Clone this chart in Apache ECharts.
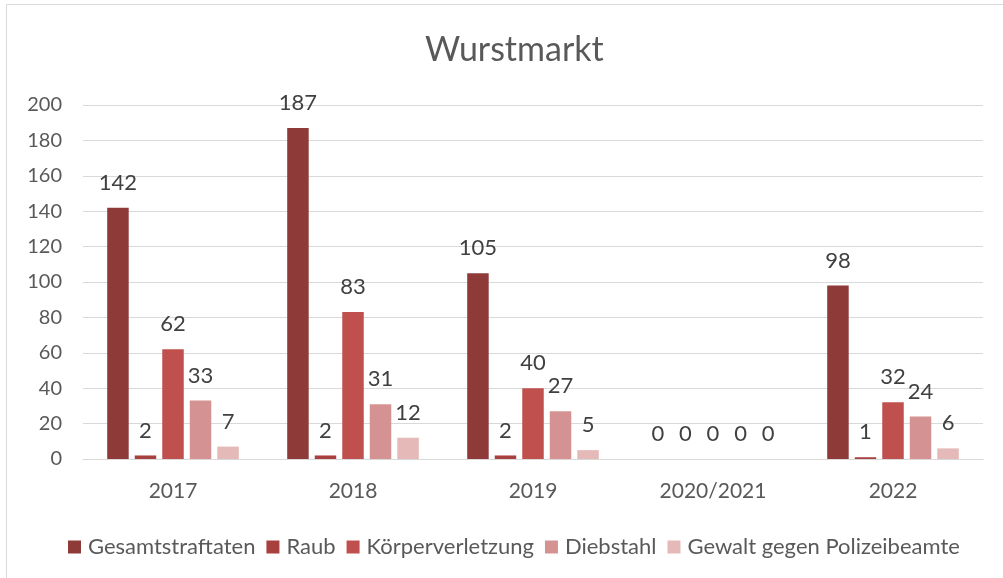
<!DOCTYPE html>
<html>
<head>
<meta charset="utf-8">
<script src="https://cdn.jsdelivr.net/npm/echarts@6/dist/echarts.min.js"></script>
<style>
  html, body { margin: 0; padding: 0; background: #fff; }
  #chart { width: 1003px; height: 578px; }
</style>
</head>
<body>
<div id="chart"></div>
<script>
// Kategorien (Jahre) und Werte je Deliktart
const years = ['2017', '2018', '2019', '2020/2021', '2022'];
const seriesNames = ['Gesamtstraftaten', 'Raub', 'Körperverletzung', 'Diebstahl', 'Gewalt gegen Polizeibeamte'];
const gesamtstraftaten = [142, 187, 105, 0, 98];
const raub = [2, 2, 2, 0, 1];
const koerperverletzung = [62, 83, 40, 0, 32];
const diebstahl = [33, 31, 27, 0, 24];
const gewaltPolizei = [7, 12, 5, 0, 6];
const yTicks = [0, 20, 40, 60, 80, 100, 120, 140, 160, 180, 200];

const values = [gesamtstraftaten, raub, koerperverletzung, diebstahl, gewaltPolizei];
const colors = ['#8E3A39', '#A8403E', '#C0504D', '#D49392', '#E5B9B8'];
const font = 'Lato, "Open Sans", sans-serif';

const chart = echarts.init(document.getElementById('chart'));
chart.setOption({
  animation: false,
  textStyle: { fontFamily: font },
  graphic: [{
    type: 'rect',
    shape: { x: 6.5, y: 4.5, width: 1000, height: 580 },
    style: { fill: 'none', stroke: '#d9d9d9', lineWidth: 1 },
    silent: true
  }],
  title: {
    text: 'Wurstmarkt',
    left: 420,
    top: 28,
    textStyle: { fontFamily: font, fontSize: 34, fontWeight: 'normal', color: '#595959' }
  },
  legend: {
    top: 531,
    left: 63,
    itemWidth: 13,
    itemHeight: 13,
    itemGap: 11,
    icon: 'rect',
    textStyle: { fontFamily: font, fontSize: 22, color: '#595959', padding: [0, 0, 0, 2] },
    data: seriesNames
  },
  grid: { left: 83, right: 20, top: 105, bottom: 119, containLabel: false },
  xAxis: {
    type: 'category',
    data: years,
    axisLine: { lineStyle: { color: '#d9d9d9', width: 1 } },
    axisTick: { show: false },
    axisLabel: { fontFamily: font, fontSize: 21, color: '#595959', margin: 22 }
  },
  yAxis: {
    type: 'value',
    min: yTicks[0],
    max: yTicks[yTicks.length - 1],
    interval: 20,
    axisLine: { show: false },
    axisTick: { show: false },
    splitLine: { lineStyle: { color: '#d9d9d9', width: 1 } },
    axisLabel: { fontFamily: font, fontSize: 20, color: '#595959', margin: 21 }
  },
  series: seriesNames.map((name, i) => ({
    name: name,
    type: 'bar',
    data: values[i],
    barWidth: 21.5,
    barGap: '28%',
    itemStyle: { color: colors[i] },
    label: {
      show: true,
      position: 'top',
      distance: 14,
      fontFamily: font,
      fontSize: 22,
      color: '#404040'
    }
  }))
});
</script>
</body>
</html>
